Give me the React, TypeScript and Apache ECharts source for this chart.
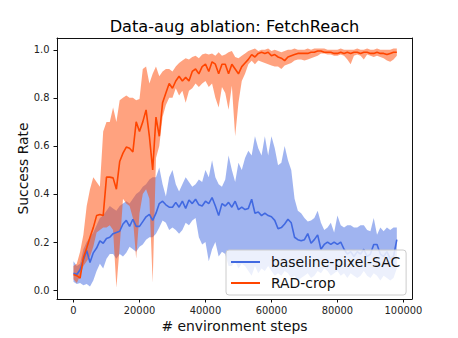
import React, { useEffect, useRef } from 'react';
import * as echarts from 'echarts';

const STEP = 1000;

const blueMean = [
  0.07, 0.065, 0.085, 0.125, 0.165, 0.115, 0.155, 0.175, 0.205, 0.195,
  0.215, 0.22, 0.235, 0.24, 0.245, 0.275, 0.29, 0.265, 0.295, 0.265,
  0.265, 0.285, 0.305, 0.315, 0.29, 0.32, 0.36, 0.37, 0.355, 0.345,
  0.345, 0.365, 0.345, 0.37, 0.34, 0.375, 0.36, 0.378, 0.355, 0.35,
  0.37, 0.36, 0.385, 0.35, 0.31, 0.36, 0.35, 0.365, 0.345, 0.37,
  0.335, 0.345, 0.335, 0.34, 0.378, 0.32, 0.325, 0.31, 0.32, 0.31,
  0.305, 0.29, 0.255, 0.26, 0.275, 0.295, 0.28, 0.22, 0.21, 0.205,
  0.21, 0.235, 0.195, 0.21, 0.23, 0.17, 0.19, 0.2, 0.19, 0.2,
  0.19, 0.2, 0.17, 0.15, 0.16, 0.14, 0.16, 0.15, 0.17, 0.14,
  0.15, 0.19, 0.19, 0.15, 0.14, 0.16, 0.13, 0.14, 0.21,
];
const blueUpper = [
  0.12, 0.1, 0.11, 0.17, 0.2, 0.22, 0.24, 0.27, 0.3, 0.31,
  0.33, 0.35, 0.34, 0.33, 0.35, 0.36, 0.37, 0.36, 0.38, 0.4,
  0.41, 0.43, 0.44, 0.46, 0.47, 0.47, 0.51, 0.44, 0.39, 0.47,
  0.5, 0.44, 0.41, 0.44, 0.47, 0.45, 0.43, 0.44, 0.46, 0.45,
  0.5, 0.47, 0.54, 0.47, 0.44, 0.43, 0.46, 0.56, 0.5, 0.45,
  0.53, 0.5, 0.55, 0.58, 0.56, 0.64, 0.59, 0.56, 0.64, 0.56,
  0.64, 0.59, 0.52, 0.53, 0.6, 0.54, 0.5, 0.38, 0.33, 0.32,
  0.3, 0.285, 0.29, 0.3, 0.33, 0.28, 0.25, 0.26, 0.28, 0.24,
  0.31, 0.27, 0.26, 0.27, 0.27, 0.26, 0.26, 0.27, 0.27, 0.25,
  0.245, 0.3, 0.23, 0.26, 0.245, 0.26, 0.25, 0.26, 0.26,
];
const blueLower = [
  0.035, 0.025, 0.03, 0.02, 0.025, 0.015, 0.04, 0.08, 0.11, 0.09,
  0.13, 0.15, 0.15, 0.13, 0.15, 0.14, 0.155, 0.18, 0.17, 0.16,
  0.18, 0.19, 0.21, 0.22, 0.22, 0.235, 0.26, 0.29, 0.28, 0.25,
  0.26, 0.25, 0.235, 0.25, 0.28, 0.27, 0.29, 0.3, 0.22, 0.19,
  0.2, 0.12, 0.17, 0.2, 0.14, 0.16, 0.15, 0.1, 0.1, 0.12,
  0.09, 0.11, 0.1, 0.08, 0.06, 0.1, 0.07, 0.09, 0.08, 0.1,
  0.08, 0.06, 0.07, 0.06, 0.08, 0.07, 0.05, 0.06, 0.04, 0.05,
  0.06, 0.07, 0.05, 0.06, 0.08, 0.07, 0.09, 0.08, 0.06, 0.07,
  0.08, 0.06, 0.07, 0.05, 0.07, 0.06, 0.05, 0.06, 0.08, 0.06,
  0.05, 0.07, 0.06, 0.04, 0.06, 0.05, 0.04, 0.05, 0.09,
];

const redMean = [
  0.065, 0.06, 0.05, 0.135, 0.175, 0.22, 0.26, 0.31, 0.315, 0.31,
  0.47, 0.47, 0.467, 0.42, 0.535, 0.57, 0.595, 0.59, 0.575, 0.7,
  0.66, 0.7, 0.75, 0.64, 0.5, 0.72, 0.64, 0.78, 0.82, 0.86,
  0.84, 0.87, 0.89, 0.87, 0.885, 0.87, 0.91, 0.92, 0.9, 0.93,
  0.94, 0.91, 0.95, 0.94, 0.9, 0.94, 0.94, 0.9, 0.94, 0.92,
  0.9, 0.93, 0.945, 0.96, 0.98, 0.97, 0.985, 0.99, 0.985, 0.99,
  0.975, 0.98, 0.97, 0.965, 0.955, 0.97, 0.975, 0.98, 0.985, 0.985,
  0.985, 0.985, 0.99, 0.99, 0.995, 0.995, 0.99, 0.99, 0.99, 0.985,
  0.985, 0.99, 0.985, 0.99, 0.985, 0.99, 0.99, 0.985, 0.99, 0.99,
  0.985, 0.985, 0.99, 0.985, 0.985, 0.98, 0.985, 0.99, 0.99,
];
const redUpper = [
  0.1, 0.11, 0.16, 0.23, 0.35, 0.42, 0.47, 0.45, 0.43, 0.66,
  0.7, 0.7, 0.76, 0.7, 0.79, 0.8, 0.81, 0.8, 0.8, 0.79,
  0.795, 0.92, 0.93, 0.86, 0.9, 0.93, 0.89, 0.91, 0.92, 0.92,
  0.91, 0.93, 0.945, 0.955, 0.965, 0.96, 0.97, 0.975, 0.965, 0.98,
  0.985, 0.98, 0.985, 0.975, 0.99, 0.975, 0.98, 0.99, 0.995, 0.97,
  0.965, 0.975, 0.985, 0.995, 1.0, 1.005, 0.995, 1.0, 1.0, 1.005,
  0.995, 1.0, 0.995, 0.99, 0.995, 1.0, 1.0, 1.005, 1.0, 1.0,
  1.0, 1.005, 1.0, 1.005, 1.005, 1.005, 1.005, 1.0, 1.0, 1.0,
  1.0, 1.005, 1.0, 1.0, 1.0, 1.0, 1.005, 1.0, 1.0, 1.005,
  1.0, 1.0, 1.005, 1.0, 1.0, 1.0, 1.0, 1.005, 1.005,
];
const redLower = [
  0.045, 0.03, 0.06, 0.1, 0.12, 0.14, 0.18, 0.24, 0.25, 0.26,
  0.26, 0.27, 0.25, 0.01, 0.18, 0.38, 0.36, 0.35, 0.3, 0.13,
  0.32, 0.4, 0.42, 0.38, 0.03, 0.55, 0.6, 0.72, 0.77, 0.8,
  0.8, 0.84, 0.81, 0.83, 0.78, 0.83, 0.84, 0.86, 0.845, 0.86,
  0.87, 0.845, 0.86, 0.8, 0.76, 0.845, 0.82, 0.75, 0.85, 0.64,
  0.78, 0.87, 0.9, 0.94, 0.954, 0.94, 0.955, 0.95, 0.945, 0.94,
  0.935, 0.93, 0.93, 0.92, 0.935, 0.94, 0.945, 0.955, 0.96, 0.96,
  0.955, 0.96, 0.965, 0.97, 0.975, 0.985, 0.985, 0.98, 0.98, 0.975,
  0.975, 0.98, 0.975, 0.96, 0.94, 0.975, 0.98, 0.975, 0.96, 0.98,
  0.975, 0.97, 0.975, 0.97, 0.965, 0.955, 0.95, 0.96, 0.975,
];

const steps = blueMean.map((_, i) => i * STEP);
const xTicks = [0, 20000, 40000, 60000, 80000, 100000];
const yTicks = [0, 0.2, 0.4, 0.6, 0.8, 1.0];

const FONT = 'DejaVu Sans';
const BLUE = '#4169e1';
const RED = '#ff4500';
const X_MIN = -5000;
const X_MAX = 102600;
const Y_MIN = -0.037;
const Y_MAX = 1.049;
const SPINE = { show: true, onZero: false, lineStyle: { color: '#111', width: 1 } };

function bandSeries(name: string, upper: number[], lower: number[], fill: string) {
  return {
    type: 'custom',
    name,
    silent: true,
    data: [[steps[0], lower[0]]],
    encode: { x: 0, y: 1 },
    renderItem: (_params: any, api: any) => {
      const pts: number[][] = [];
      for (let i = 0; i < steps.length; i++) pts.push(api.coord([steps[i], upper[i]]));
      for (let i = steps.length - 1; i >= 0; i--) pts.push(api.coord([steps[i], lower[i]]));
      return { type: 'polygon', shape: { points: pts }, style: { fill, stroke: 'none' } };
    },
  };
}

function lineSeries(name: string, values: number[], color: string) {
  return {
    type: 'line',
    name,
    data: steps.map((s, i) => [s, values[i]]),
    showSymbol: false,
    symbol: 'none',
    lineStyle: { color, width: 1.6 },
    itemStyle: { color },
  };
}

export default function App() {
  const ref = useRef<HTMLDivElement>(null);
  useEffect(() => {
    if (!ref.current) return;
    const chart = echarts.init(ref.current, undefined, { renderer: 'svg' });
    chart.setOption({
      animation: false,
      backgroundColor: '#ffffff',
      title: {
        text: 'Data-aug ablation: FetchReach',
        left: 234.5,
        textAlign: 'center',
        top: 18,
        padding: 0,
        textStyle: { fontSize: 16.2, fontWeight: 'normal', color: '#000', fontFamily: FONT },
      },
      grid: { left: 57, right: 46, top: 38, bottom: 35 },
      legend: {
        data: [{ name: 'baseline-pixel-SAC' }, { name: 'RAD-crop' }],
        orient: 'vertical',
        left: 226,
        top: 250,
        padding: [4, 6, 4, 5],
        itemWidth: 29,
        itemHeight: 2,
        itemGap: 5,
        icon: 'rect',
        selectedMode: false,
        backgroundColor: 'rgba(255,255,255,0.8)',
        borderColor: '#cccccc',
        borderWidth: 1,
        borderRadius: 3,
        textStyle: { fontSize: 13.9, color: '#111', fontFamily: FONT, lineHeight: 16, padding: [0, 0, 0, 6] },
      },
      xAxis: [
        {
          type: 'value',
          position: 'bottom',
          min: X_MIN,
          max: X_MAX,
          splitLine: { show: false },
          axisLine: SPINE,
          axisTick: { show: true, customValues: xTicks, length: 3.5, lineStyle: { color: '#111', width: 1 } },
          axisLabel: {
            customValues: xTicks,
            margin: 6.5,
            fontSize: 9.9,
            color: '#222',
            fontFamily: FONT,
            formatter: (v: number) => String(v),
          },
          name: '# environment steps',
          nameLocation: 'middle',
          nameGap: 20,
          nameMoveOverlap: false,
          nameTextStyle: { fontSize: 13.9, color: '#111', fontFamily: FONT },
        },
        {
          type: 'value',
          position: 'top',
          min: X_MIN,
          max: X_MAX,
          splitLine: { show: false },
          axisLine: SPINE,
          axisTick: { show: false },
          axisLabel: { show: false },
        },
      ],
      yAxis: [
        {
          type: 'value',
          position: 'left',
          min: Y_MIN,
          max: Y_MAX,
          splitLine: { show: false },
          axisLine: SPINE,
          axisTick: { show: true, customValues: yTicks, length: 3.5, lineStyle: { color: '#111', width: 1 } },
          axisLabel: {
            customValues: yTicks,
            margin: 7.5,
            fontSize: 9.9,
            color: '#222',
            fontFamily: FONT,
            formatter: (v: number) => v.toFixed(1),
          },
          name: 'Success Rate',
          nameLocation: 'middle',
          nameGap: 27,
          nameMoveOverlap: false,
          nameTextStyle: { fontSize: 13.9, color: '#111', fontFamily: FONT },
        },
        {
          type: 'value',
          position: 'right',
          min: Y_MIN,
          max: Y_MAX,
          splitLine: { show: false },
          axisLine: SPINE,
          axisTick: { show: false },
          axisLabel: { show: false },
        },
      ],
      series: [
        lineSeries('baseline-pixel-SAC', blueMean, BLUE),
        bandSeries('baseline-band', blueUpper, blueLower, 'rgba(65,105,225,0.5)'),
        lineSeries('RAD-crop', redMean, RED),
        bandSeries('rad-band', redUpper, redLower, 'rgba(255,69,0,0.5)'),
      ],
    });
    return () => chart.dispose();
  }, []);
  return <div ref={ref} style={{ position: 'fixed', left: 0, top: 0, width: 458, height: 338 }} />;
}
